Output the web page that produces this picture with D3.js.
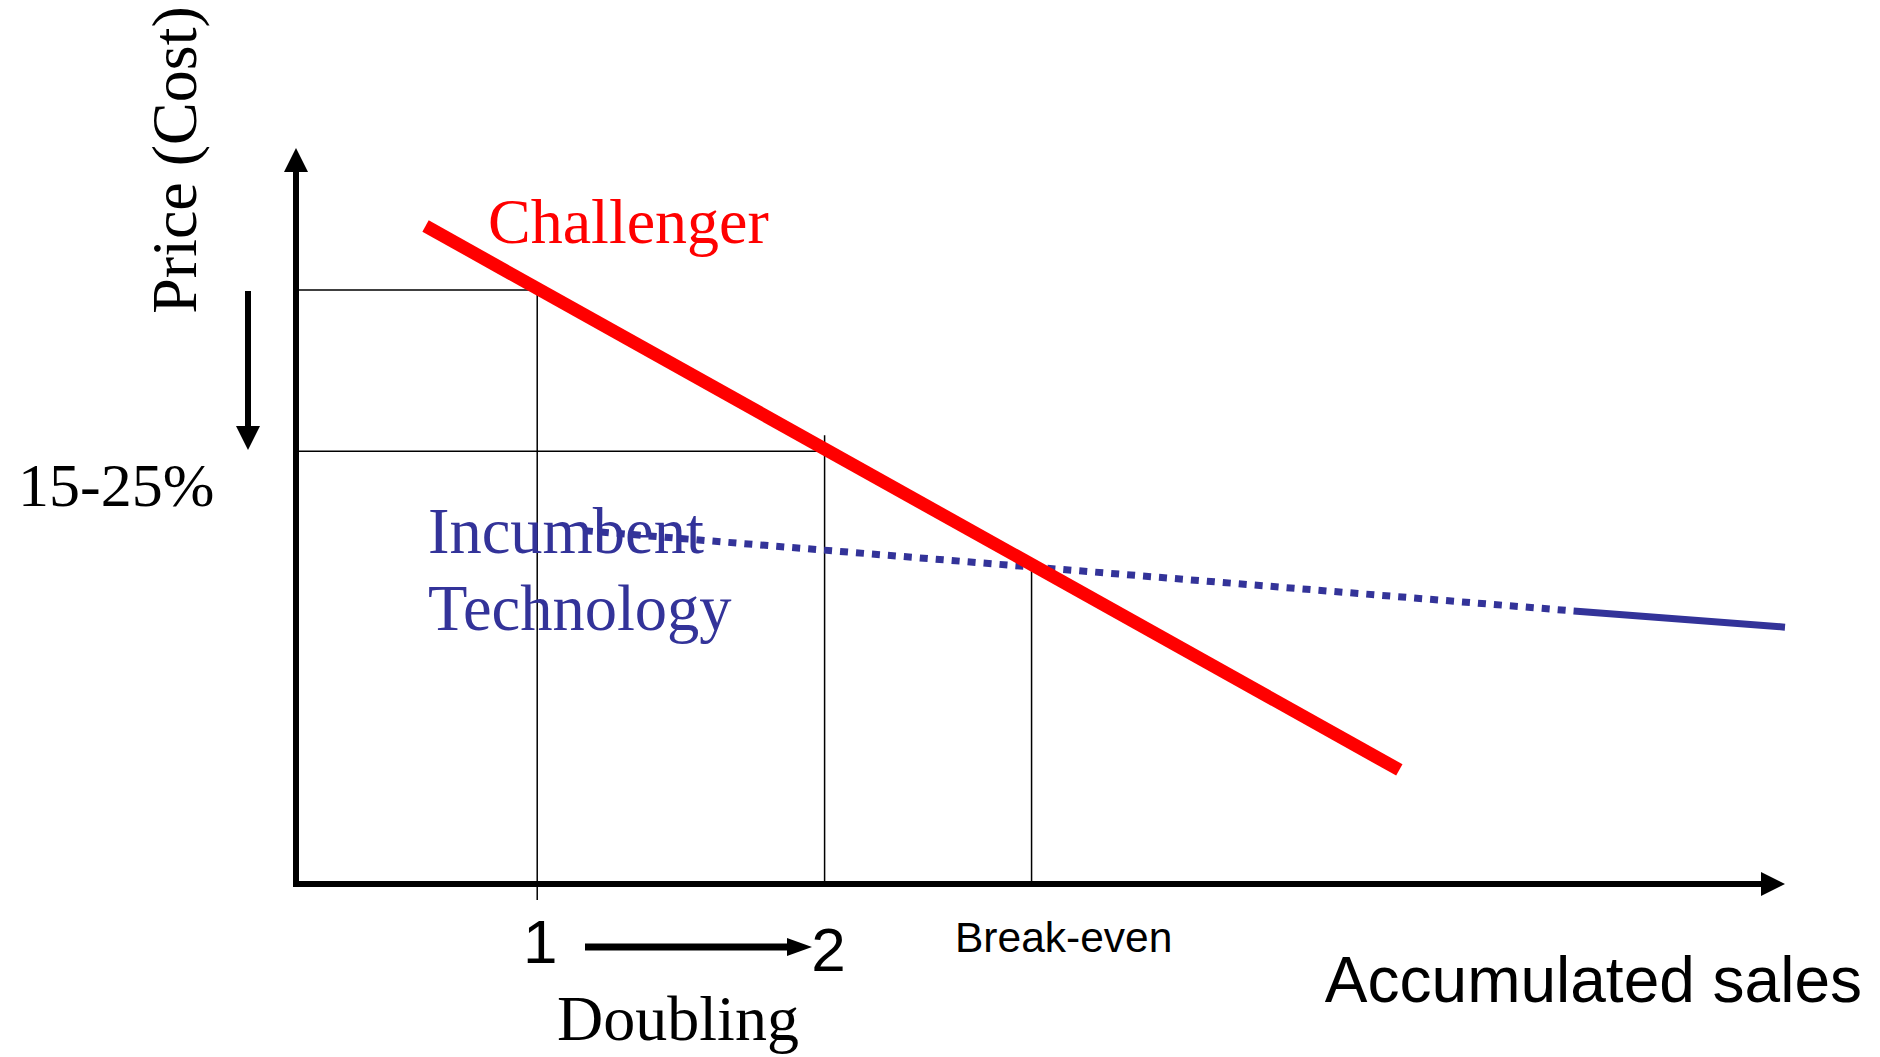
<!DOCTYPE html>
<html>
<head>
<meta charset="utf-8">
<script src="https://cdnjs.cloudflare.com/ajax/libs/d3/7.8.5/d3.min.js"></script>
<style>
    body { margin: 0; background: #fff; }
    svg { display: block; }
    .serif { font-family: "Liberation Serif", "Times New Roman", serif; }
    .sans { font-family: "Liberation Sans", Arial, sans-serif; }
</style>
</head>
<body>
<div id="chart"></div>
<script>
// values (x: accumulated sales, y: price), both 0..100
const challenger = [[8.7, 89.4], [74.1, 15.5]]
const incumbentDotted = [[19.4, 48.0], [85.8, 37.1]]
const incumbentSolid = [[85.8, 37.1], [100, 34.9]]
const doublingX = [16.2, 35.5]
const doublingY = [80.7, 58.8]
const doublingLabels = ['1', '2']
const breakEven = [49.4, 43.3]

const width = 1880
const height = 1057

const x = d3.scaleLinear().domain([0, 100]).range([296, 1785])
const y = d3.scaleLinear().domain([0, 100]).range([884, 148])

const svg = d3.select("#chart")
    .append("svg")
    .attr("width", width)
    .attr("height", height)

const line = d3.line()
    .x(d => x(d[0]))
    .y(d => y(d[1]))

const thin = (x1, y1, x2, y2) => svg.append("line")
    .attr("x1", x1).attr("y1", y1)
    .attr("x2", x2).attr("y2", y2)
    .style("stroke", "#000")
    .style("stroke-width", 1.5)

// doubling guides
doublingX.forEach((v, i) => {
    thin(x(0), y(doublingY[i]), x(v), y(doublingY[i]))
})
thin(x(doublingX[0]), y(doublingY[0]), x(doublingX[0]), y(0) + 16)
thin(x(doublingX[1]), y(doublingY[1]) - 16, x(doublingX[1]), y(0))
thin(x(breakEven[0]), y(breakEven[1]) - 4, x(breakEven[0]), y(0))

// axes with arrow heads
svg.append("line")
    .attr("x1", x(0)).attr("y1", y(0) + 3)
    .attr("x2", x(0)).attr("y2", y(100) + 20)
    .style("stroke", "#000")
    .style("stroke-width", 6)
svg.append("path")
    .attr("d", `M${x(0)},${y(100)} L${x(0) - 12},${y(100) + 24} L${x(0) + 12},${y(100) + 24} Z`)
    .style("fill", "#000")

svg.append("line")
    .attr("x1", x(0) - 3).attr("y1", y(0))
    .attr("x2", x(100) - 20).attr("y2", y(0))
    .style("stroke", "#000")
    .style("stroke-width", 6)
svg.append("path")
    .attr("d", `M${x(100)},${y(0)} L${x(100) - 24},${y(0) - 12} L${x(100) - 24},${y(0) + 12} Z`)
    .style("fill", "#000")

// incumbent technology
svg.append("path")
    .datum(incumbentDotted)
    .attr("d", line)
    .style("fill", "none")
    .style("stroke", "#333399")
    .style("stroke-width", 7)
    .style("stroke-dasharray", "8 8")
svg.append("path")
    .datum(incumbentSolid)
    .attr("d", line)
    .style("fill", "none")
    .style("stroke", "#333399")
    .style("stroke-width", 7)

// challenger
svg.append("path")
    .datum(challenger)
    .attr("d", line)
    .style("fill", "none")
    .style("stroke", "#ff0000")
    .style("stroke-width", 13)

// down arrow for the 15-25% drop
svg.append("line")
    .attr("x1", 248).attr("y1", 291)
    .attr("x2", 248).attr("y2", 430)
    .style("stroke", "#000")
    .style("stroke-width", 6)
svg.append("path")
    .attr("d", "M248,450 L236,426 L260,426 Z")
    .style("fill", "#000")

// doubling arrow 1 -> 2
svg.append("line")
    .attr("x1", 585).attr("y1", 947)
    .attr("x2", 790).attr("y2", 947)
    .style("stroke", "#000")
    .style("stroke-width", 7)
svg.append("path")
    .attr("d", "M812,947 L787,938 L787,956 Z")
    .style("fill", "#000")

// labels
svg.append("text")
    .attr("class", "serif")
    .attr("transform", "translate(196,160) rotate(-90)")
    .attr("text-anchor", "middle")
    .style("font-size", "64px")
    .text("Price (Cost)")

svg.append("text")
    .attr("class", "serif")
    .attr("x", 488).attr("y", 243)
    .style("font-size", "64px")
    .style("fill", "#ff0000")
    .text("Challenger")

svg.append("text")
    .attr("class", "serif")
    .attr("x", 18).attr("y", 506)
    .style("font-size", "62px")
    .text("15-25%")

svg.append("text")
    .attr("class", "serif")
    .attr("x", 428).attr("y", 553)
    .style("font-size", "64.5px")
    .style("fill", "#333399")
    .text("Incumbent")
svg.append("text")
    .attr("class", "serif")
    .attr("x", 428).attr("y", 630)
    .style("font-size", "64.5px")
    .style("fill", "#333399")
    .text("Technology")

svg.selectAll("text.doubling")
    .data(doublingLabels)
    .enter()
    .append("text")
    .attr("class", "sans doubling")
    .attr("x", (d, i) => x(doublingX[i]) + (i ? 4 : 3))
    .attr("y", (d, i) => i ? 971 : 963)
    .attr("text-anchor", "middle")
    .style("font-size", "62px")
    .text(d => d)

svg.append("text")
    .attr("class", "serif")
    .attr("x", 678).attr("y", 1040)
    .attr("text-anchor", "middle")
    .style("font-size", "64px")
    .text("Doubling")

svg.append("text")
    .attr("class", "sans")
    .attr("x", 955).attr("y", 952)
    .style("font-size", "42.5px")
    .text("Break-even")

svg.append("text")
    .attr("class", "sans")
    .attr("x", 1862).attr("y", 1002)
    .attr("text-anchor", "end")
    .style("font-size", "64px")
    .text("Accumulated sales")
</script>
</body>
</html>
